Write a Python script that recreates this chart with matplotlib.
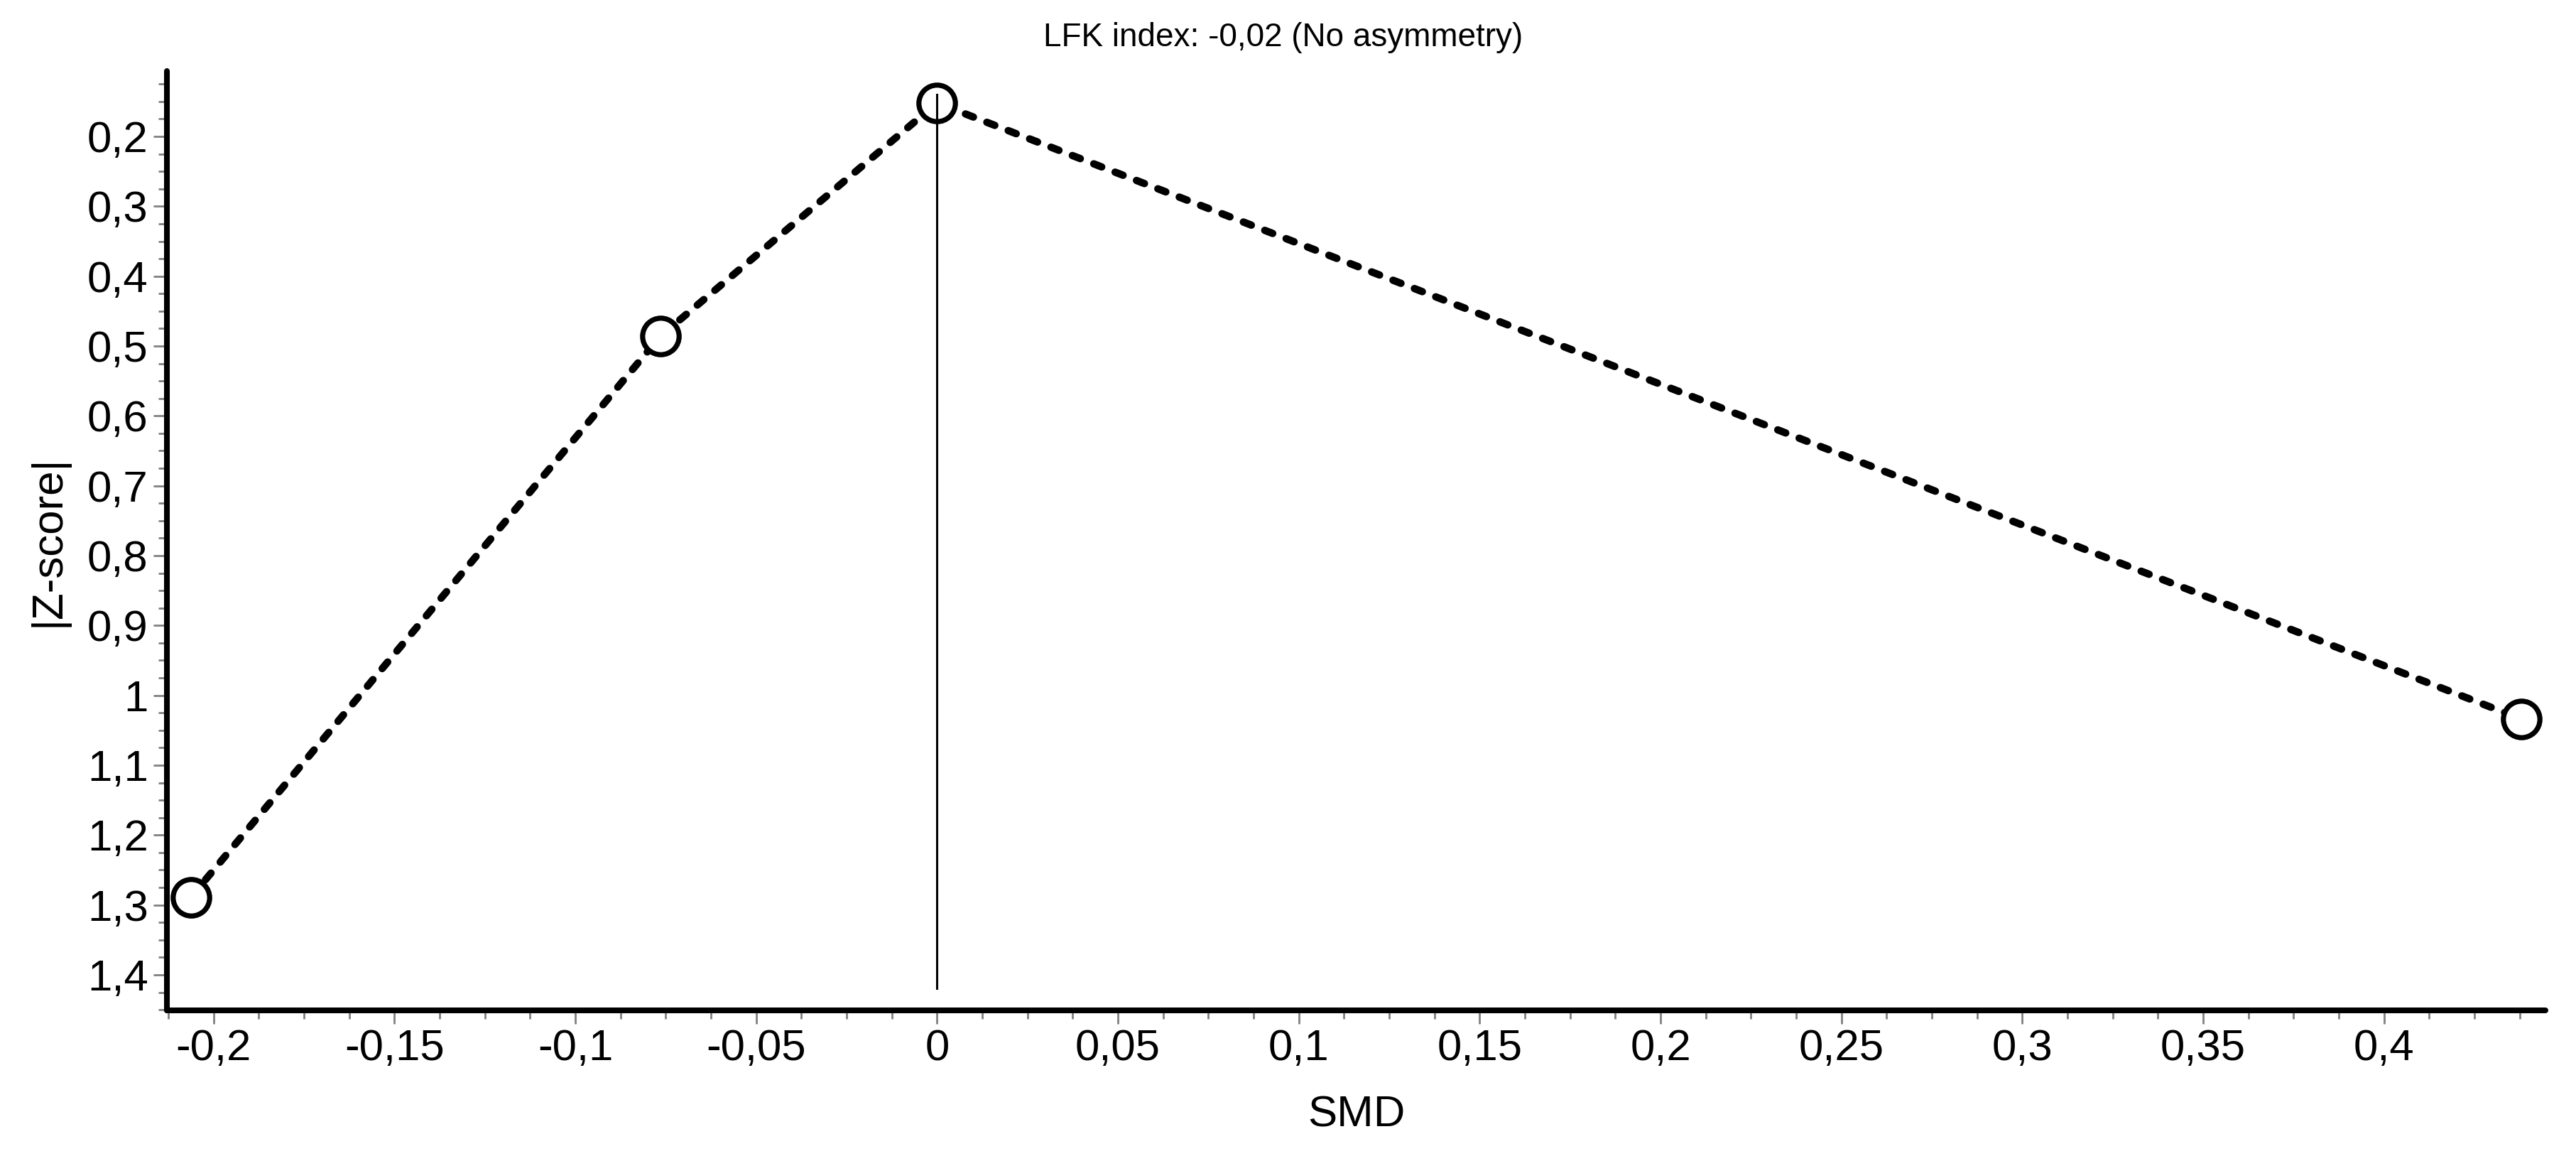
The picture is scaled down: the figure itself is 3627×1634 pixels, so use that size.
import matplotlib
matplotlib.use("Agg")
import matplotlib.pyplot as plt
from matplotlib.ticker import MultipleLocator, FuncFormatter

plt.rcParams['font.family'] = ['Liberation Sans', 'DejaVu Sans']

# Doi plot points (SMD vs |Z-score|)
smd = [-0.2063, -0.0765, 0.0, 0.438]
zscore = [1.289, 0.486, 0.152, 1.034]

# reference line at SMD = 0
ref_x = 0.0
ref_top = 0.14
ref_bottom = 1.419

title_text = "LFK index: -0,02 (No asymmetry)"
x_label = "SMD"
y_label = "|Z-score|"

x_limits = (-0.2129, 0.4446)
y_limits = (1.451, 0.1064)


def comma_fmt(v, pos):
    v = round(v, 4) + 0.0
    return "{:g}".format(v).replace(".", ",")


fig = plt.figure(figsize=(36.27, 16.34), dpi=100, facecolor='white')
ax = fig.add_axes([0.0648, 0.1297, 0.9233, 0.8091])

# dashed line behind the markers
ax.plot(smd, zscore, color='black', linewidth=7.5, linestyle=(0, (1.15, 1.95)),
        dash_capstyle='round', zorder=2)
ax.plot(smd, zscore, linestyle='none', marker='o', markersize=37,
        markerfacecolor='white', markeredgecolor='black', markeredgewidth=5.2,
        zorder=3, clip_on=False)
ax.plot([ref_x, ref_x], [ref_top, ref_bottom], color='black', linewidth=2.2, zorder=4)

ax.set_xlim(*x_limits)
ax.set_ylim(*y_limits)

ax.xaxis.set_major_locator(MultipleLocator(0.05))
ax.xaxis.set_minor_locator(MultipleLocator(0.0125))
ax.yaxis.set_major_locator(MultipleLocator(0.1))
ax.yaxis.set_minor_locator(MultipleLocator(0.025))
ax.xaxis.set_major_formatter(FuncFormatter(comma_fmt))
ax.yaxis.set_major_formatter(FuncFormatter(comma_fmt))

for side in ['top', 'right']:
    ax.spines[side].set_visible(False)
for side in ['left', 'bottom']:
    ax.spines[side].set_linewidth(5.8)
    ax.spines[side].set_capstyle('round')

ax.tick_params(which='major', direction='out', length=14, width=2, color='#808080',
               labelsize=44.5, labelcolor='black', pad=5)
ax.tick_params(which='minor', direction='out', length=8.5, width=2, color='#808080')

ax.set_xlabel(x_label, fontsize=44.5, va='baseline')
ax.xaxis.set_label_coords(0.5, -0.1233)
ax.set_ylabel(y_label, fontsize=44.5, va='center')
ax.yaxis.set_label_coords(-0.0499, 0.5)

fig.text(0.498, 0.9602, title_text, fontsize=33, ha='center', va='baseline')

fig.savefig('out.png', dpi=100, facecolor='white')
